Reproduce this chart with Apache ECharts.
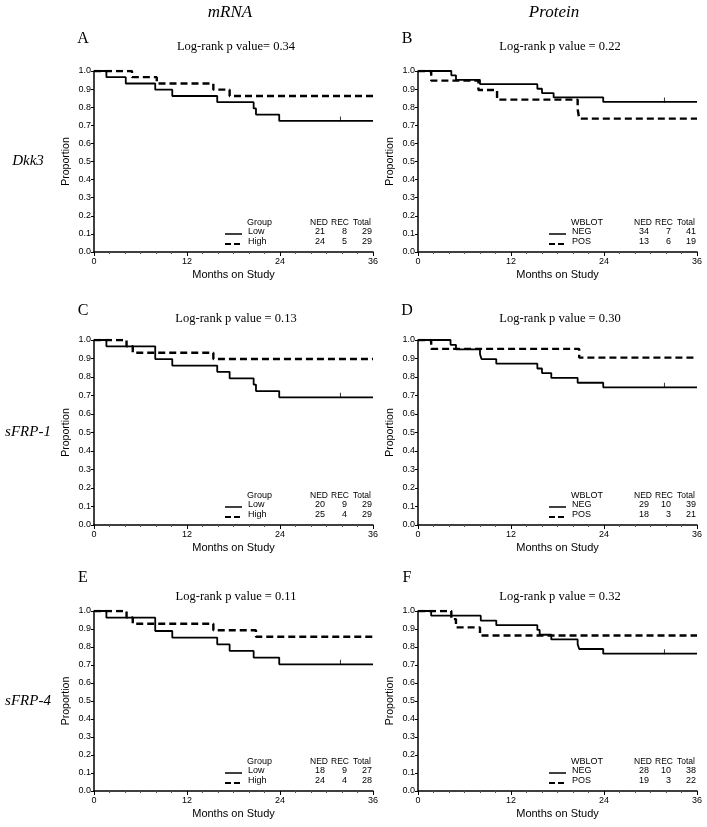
<!DOCTYPE html>
<html><head><meta charset="utf-8">
<script src="https://cdn.jsdelivr.net/npm/echarts@6/dist/echarts.min.js"></script>
<style>html,body{margin:0;padding:0;background:#fff}#c{width:707px;height:827px}</style>
</head><body><div id="c"></div>
<script>
// ---- data (months, proportion) ----
const aLow  = [[0,1],[1.6,0.966],[4.1,0.931],[7.9,0.897],[10.1,0.862],[15.9,0.828],[20.6,0.793],[20.9,0.759],[23.9,0.724],[36,0.724]];
const aHigh = [[0,1],[4.9,0.966],[8.1,0.931],[15.4,0.897],[17.5,0.862],[36,0.862]];
const aCens = [[31.8,0.724]];
const bNeg  = [[0,1],[4.3,0.976],[4.9,0.951],[8.0,0.927],[15.4,0.902],[16.0,0.878],[17.5,0.854],[23.9,0.829],[36,0.829]];
const bPos  = [[0,1],[1.7,0.947],[7.8,0.895],[10.2,0.842],[20.6,0.789],[20.8,0.737],[36,0.737]];
const bCens = [[31.8,0.829]];
const cLow  = [[0,1],[1.6,0.966],[7.9,0.897],[10.1,0.862],[15.9,0.828],[17.5,0.793],[20.6,0.759],[20.9,0.724],[23.9,0.690],[36,0.690]];
const cHigh = [[0,1],[4.2,0.966],[5.0,0.931],[15.4,0.897],[36,0.897]];
const cCens = [[31.8,0.690]];
const dNeg  = [[0,1],[4.2,0.974],[4.9,0.949],[8.0,0.923],[8.2,0.897],[10.1,0.872],[15.4,0.846],[16.0,0.821],[17.2,0.795],[20.6,0.769],[23.9,0.744],[36,0.744]];
const dPos  = [[0,1],[1.7,0.952],[20.8,0.905],[36,0.905]];
const dCens = [[31.8,0.744]];
const eLow  = [[0,1],[1.6,0.963],[7.9,0.889],[10.1,0.852],[15.9,0.815],[17.5,0.778],[20.6,0.741],[23.9,0.704],[36,0.704]];
const eHigh = [[0,1],[4.2,0.964],[5.0,0.929],[15.4,0.893],[20.9,0.857],[36,0.857]];
const eCens = [[31.8,0.704]];
const fNeg  = [[0,1],[1.7,0.974],[8.1,0.947],[10.1,0.921],[15.4,0.895],[15.7,0.868],[17.2,0.842],[20.6,0.816],[20.8,0.789],[23.9,0.763],[36,0.763]];
const fPos  = [[0,1],[4.3,0.955],[4.9,0.909],[8.0,0.864],[36,0.864]];
const fCens = [[31.8,0.763]];

const panelLetters = ['A','B','C','D','E','F'];
const pValueTitles = ['Log-rank p value= 0.34','Log-rank p value = 0.22','Log-rank p value = 0.13','Log-rank p value = 0.30','Log-rank p value = 0.11','Log-rank p value = 0.32'];
const columnHeaders = ['mRNA','Protein'];
const rowLabels = ['Dkk3','sFRP-1','sFRP-4'];
const groupTitles = ['Group','WBLOT','Group','WBLOT','Group','WBLOT'];
const groupNames = [['Low','High'],['NEG','POS'],['Low','High'],['NEG','POS'],['Low','High'],['NEG','POS']];
const tableHeaders = ['NED','REC','Total'];
const tableA = [[21,8,29],[24,5,29]];
const tableB = [[34,7,41],[13,6,19]];
const tableC = [[20,9,29],[25,4,29]];
const tableD = [[29,10,39],[18,3,21]];
const tableE = [[18,9,27],[24,4,28]];
const tableF = [[28,10,38],[19,3,22]];
const xTickStep = 12;
const yTickStep = 0.1;

// ---- layout ----
const curves = [[aLow,aHigh,aCens],[bNeg,bPos,bCens],[cLow,cHigh,cCens],[dNeg,dPos,dCens],[eLow,eHigh,eCens],[fNeg,fPos,fCens]];
const tables = [tableA,tableB,tableC,tableD,tableE,tableF];
const colLeft = [94, 418];
const plotW = 279;
const rowGeom = [{top:71,h:181},{top:340,h:185},{top:611,h:180}];
const titleY = [47, 319, 597];
const letterY = [39, 311, 578];
const SANS = '"Liberation Sans", Arial, Helvetica, sans-serif';
const SERIF = '"Liberation Serif", "Times New Roman", serif';

const grids=[], xAxes=[], yAxes=[], series=[], graphics=[];
function txt(x,y,text,font,align,valign){
  graphics.push({type:'text', silent:true, style:{text, x, y, font, fill:'#000',
    textAlign:align||'left', textVerticalAlign:valign||'middle', align:align||'left', verticalAlign:valign||'middle'}});
}
function ln(x1,y1,x2,y2,dash,w){
  graphics.push({type:'line', silent:true, shape:{x1,y1,x2,y2}, style:{stroke:'#000', lineWidth:w, lineDash:dash||null}});
}
for(let p=0;p<6;p++){
  const r=Math.floor(p/2), c=p%2;
  const L=colLeft[c], T=rowGeom[r].top, H=rowGeom[r].h, B=T+H;
  grids.push({left:L, top:T, width:plotW, height:H});
  xAxes.push({type:'value', gridIndex:p, min:0, max:36, interval:xTickStep,
    name:'Months on Study', nameLocation:'middle', nameGap:17,
    nameTextStyle:{fontFamily:SANS, fontSize:11, color:'#000'},
    axisLine:{lineStyle:{color:'#000', width:1.5}},
    axisTick:{show:true, length:4, lineStyle:{color:'#000', width:1}},
    minorTick:{show:true, splitNumber:6, length:2, lineStyle:{color:'#555', width:1}},
    axisLabel:{fontFamily:SANS, fontSize:9, color:'#000', margin:5},
    splitLine:{show:false}});
  yAxes.push({type:'value', gridIndex:p, min:0, max:1, interval:yTickStep,
    name:'Proportion', nameLocation:'middle', nameGap:22, nameRotate:90,
    nameTextStyle:{fontFamily:SANS, fontSize:10.5, color:'#000'},
    axisLine:{show:true, lineStyle:{color:'#000', width:1.5}},
    axisTick:{show:true, length:3, lineStyle:{color:'#000', width:1}},
    axisLabel:{fontFamily:SANS, fontSize:9, color:'#000', margin:3, formatter:v=>v.toFixed(1)},
    splitLine:{show:false}});
  const [lo,hi,cen]=curves[p];
  series.push({type:'line', xAxisIndex:p, yAxisIndex:p, data:lo, step:'end', showSymbol:false, silent:true,
    lineStyle:{color:'#000', width:1.8}, z:3});
  series.push({type:'line', xAxisIndex:p, yAxisIndex:p, data:hi, step:'end', showSymbol:false, silent:true,
    lineStyle:{color:'#000', width:2.4, type:[7,4]}, z:3});
  series.push({type:'scatter', xAxisIndex:p, yAxisIndex:p, data:cen, symbol:'rect', symbolSize:[1,5],
    symbolOffset:[0,-2], itemStyle:{color:'#000'}, silent:true});
  // titles & letters
  txt(L+142, titleY[r], pValueTitles[p], '12.5px '+SERIF, 'center');
  txt(c===0?83:407, letterY[r], panelLetters[p], '16px '+SERIF, 'center');
  // legend table
  const tf='9px '+SANS, hf='8.5px '+SANS;
  txt(L+153, B-29, groupTitles[p], tf, 'left');
  txt(L+216, B-29, tableHeaders[0], hf, 'left');
  txt(L+237, B-29, tableHeaders[1], hf, 'left');
  txt(L+259, B-29, tableHeaders[2], hf, 'left');
  const rowsY=[B-20, B-10];
  for(let k=0;k<2;k++){
    const y=rowsY[k];
    txt(L+154, y, groupNames[p][k], tf, 'left');
    if(k===0) ln(L+131, y+2, L+148, y+2, null, 1.5);
    else ln(L+131, y+2, L+149, y+2, [6,3], 2.2);
    txt(L+231, y, String(tables[p][k][0]), tf, 'right');
    txt(L+253, y, String(tables[p][k][1]), tf, 'right');
    txt(L+278, y, String(tables[p][k][2]), tf, 'right');
  }
}
// column headers and row labels
txt(230, 13, columnHeaders[0], 'italic 17px '+SERIF, 'center');
txt(554, 13, columnHeaders[1], 'italic 17px '+SERIF, 'center');
for(let r=0;r<3;r++){
  txt(28, rowGeom[r].top+rowGeom[r].h/2, rowLabels[r], 'italic 15px '+SERIF, 'center');
}

const chart = echarts.init(document.getElementById('c'), null, {renderer:'canvas'});
chart.setOption({animation:false, backgroundColor:'#fff', grid:grids, xAxis:xAxes, yAxis:yAxes, series, graphic:graphics});
</script>
</body></html>
